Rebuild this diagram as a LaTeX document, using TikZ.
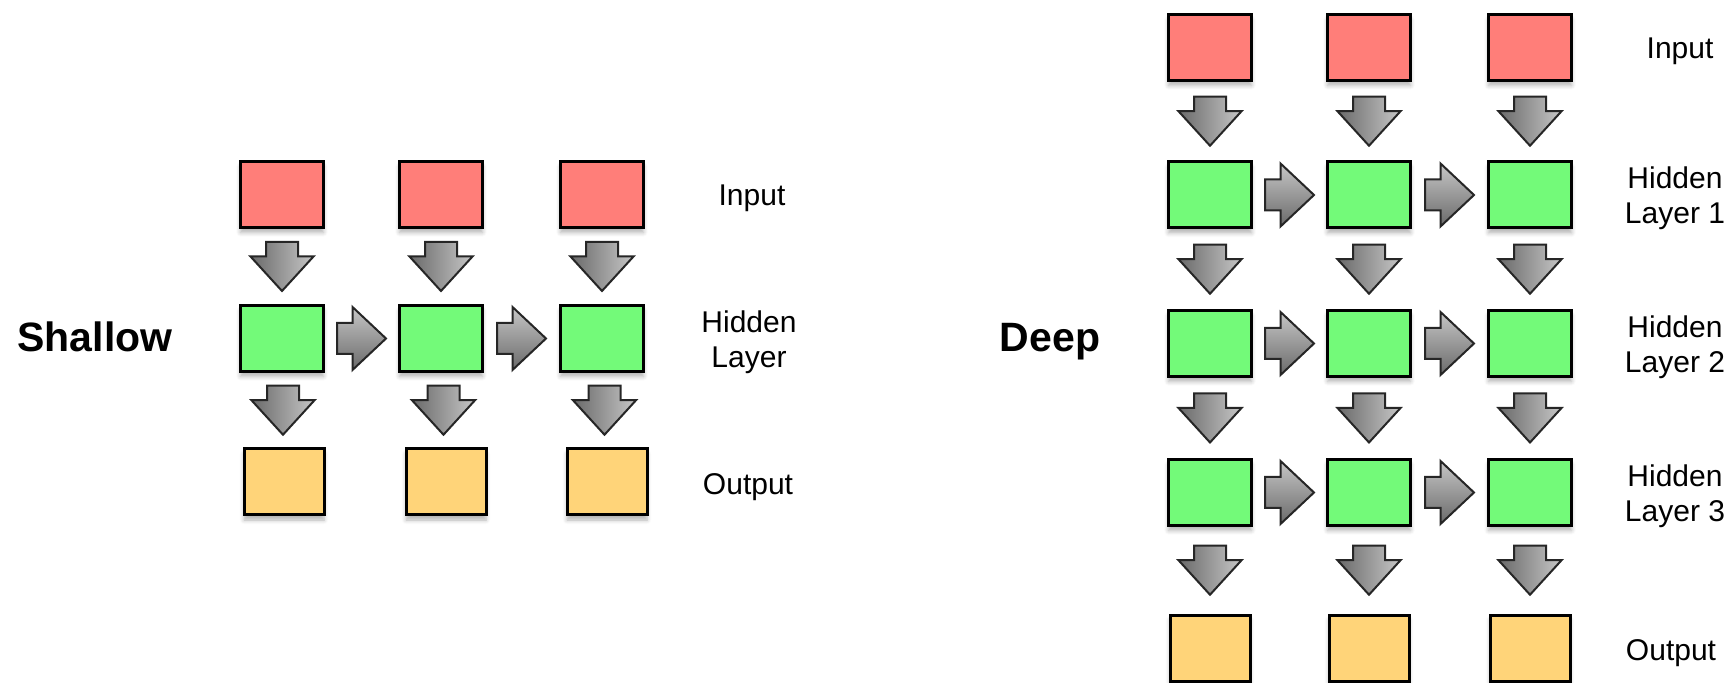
\documentclass[tikz,border=0pt]{standalone}
\usepackage{fontspec}
\setmainfont{Liberation Sans}
\usetikzlibrary{calc,shadows.blur}

\definecolor{salmon}{HTML}{FF7E79}
\definecolor{flora}{HTML}{73FA79}
\definecolor{cantaloupe}{HTML}{FFD479}
\definecolor{arrdark}{HTML}{6A6A6A}
\definecolor{arrlight}{HTML}{C6C6C6}

\begin{document}
\begin{tikzpicture}[x=0.5pt,y=-0.5pt,
  box/.style={draw=black,line width=1.5pt,minimum width=41.5pt,minimum height=33pt,inner sep=0pt,
    blur shadow={shadow xshift=0pt,shadow yshift=-2.5pt,shadow blur steps=5,shadow opacity=30}},
  inbox/.style={box,fill=salmon},
  hidbox/.style={box,fill=flora},
  outbox/.style={box,fill=cantaloupe,minimum width=40pt},
  lbl/.style={font=\fontsize{15}{17.5}\selectfont,align=center},
  headlbl/.style={font=\fontsize{20.5}{24}\selectfont\bfseries,anchor=base},
  dnarrow/.pic={\shade[draw=black!85,line width=1pt,left color=arrdark,right color=arrlight]
    (-16,-24.5) -- (16,-24.5) -- (16,-10) -- (31.5,-10) -- (0,24.5) -- (-31.5,-10) -- (-16,-10) -- cycle;},
  rtarrow/.pic={\shade[draw=black!85,line width=1pt,top color=arrlight,bottom color=arrdark]
    (-24.5,-15.5) -- (-9,-15.5) -- (-9,-31.5) -- (24.5,0) -- (-9,31.5) -- (-9,15.5) -- (-24.5,15.5) -- cycle;}]

\useasboundingbox (0,0) rectangle (1729,683);

% shallow net
\node[headlbl] (shallow) at (95,352) {Shallow};
\foreach \c/\x/\xo in {1/282/284,2/441/446,3/602/607}
{
	\node[inbox] (si\c) at (\x,194.5) {};
	\node[hidbox] (sh\c) at (\x,338.5) {};
	\node[outbox] (so\c) at (\xo,482) {};
	\pic at ($(si\c)!0.5!(sh\c)$) {dnarrow};
	\pic at ($(sh\c)!0.5!(so\c)$) {dnarrow};
}
\foreach \a/\b in {1/2,2/3}
	\pic at ($(sh\a)!0.5!(sh\b)$) {rtarrow};

\node[lbl] (sin) at (752,198.5) {Input};
\node[lbl] (shid) at (749,342.5) {Hidden\\Layer};
\node[lbl] (sout) at (748,487.5) {Output};

% deep net
\node[headlbl] (deep) at (1050,352) {Deep};
\foreach \c/\x in {1/1210,2/1369,3/1530}
{
	\node[inbox] (di\c) at (\x,47.5) {};
	\foreach \r/\y in {1/195,2/343.5,3/492.5}
		\node[hidbox] (dh\r\c) at (\x,\y) {};
	\node[outbox] (do\c) at (\x,648) {};
	\pic at ($(di\c)!0.5!(dh1\c)$) {dnarrow};
	\pic at ($(dh1\c)!0.5!(dh2\c)$) {dnarrow};
	\pic at ($(dh2\c)!0.5!(dh3\c)$) {dnarrow};
	\pic at ($(dh3\c)!0.5!(do\c)$) {dnarrow};
}
\foreach \r in {1,2,3}
	\foreach \a/\b in {1/2,2/3}
		\pic at ($(dh\r\a)!0.5!(dh\r\b)$) {rtarrow};

\node[lbl] (din) at (1680,51.5) {Input};
\node[lbl] (dhid1) at (1675,198.5) {Hidden\\Layer 1};
\node[lbl] (dhid2) at (1675,347) {Hidden\\Layer 2};
\node[lbl] (dhid3) at (1675,496) {Hidden\\Layer 3};
\node[lbl] (dout) at (1671,653.5) {Output};

\end{tikzpicture}
\end{document}
